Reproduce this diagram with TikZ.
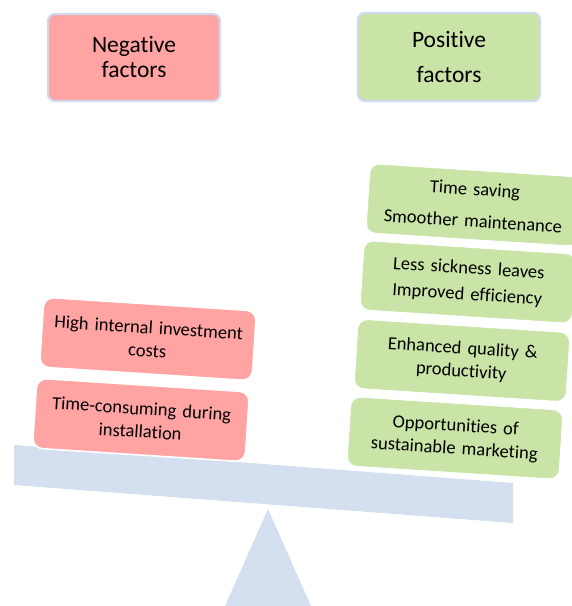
\documentclass[tikz,border=0pt]{standalone}
\usepackage{fontspec}
\setmainfont{Carlito}[Ligatures=NoCommon]
\definecolor{negfill}{HTML}{FFA3A3}
\definecolor{posfill}{HTML}{C9E4A6}
\definecolor{beamcol}{HTML}{D4DFEF}
\definecolor{hdrline}{HTML}{CFDAEC}
\tikzset{
  hdr/.style={draw=hdrline, line width=2.2pt, rounded corners=7pt, minimum width=172pt, minimum height=87pt, inner sep=0pt, align=center},
  factorbox/.style={draw=white, line width=1.6pt, rounded corners=10pt, minimum width=213pt, minimum height=70pt, inner sep=0pt, align=center, text width=205pt},
  negbox/.style={factorbox, fill=negfill},
  posbox/.style={factorbox, fill=posfill},
}
\begin{document}
\begin{tikzpicture}[x=1pt,y=1pt]
\useasboundingbox (0,0) rectangle (572,606);
\clip (0,0) rectangle (572,606);
% headers
\node[hdr, fill=negfill, font=\fontsize{23.5}{25}\selectfont] (neghdr) at (134,548.5) {Negative\\factors};
\node[hdr, fill=posfill, minimum width=182pt, minimum height=88pt, font=\fontsize{23.5}{35}\selectfont] (poshdr) at (449,549) {Positive\\factors};
% fulcrum
\path[fill=beamcol] (268,97) coordinate (apex) -- (225,0) -- (311,0) -- cycle;
% beam
\path[fill=beamcol] (14,161) coordinate (beamtl) -- (14,121) -- (513,83) -- (513,123) -- cycle;
% negative factors
\node[negbox, rotate=-3.7, font=\fontsize{18.5}{23}\selectfont] (n1) at (148,267) {High internal investment\\costs};
\node[negbox, rotate=-3.7, font=\fontsize{18.5}{23}\selectfont] (n2) at (141,186) {Time-consuming during\\installation};
% positive factors
\node[posbox, rotate=-3.7, font=\fontsize{18.5}{32}\selectfont] (p1) at (474,401) {Time saving\\Smoother maintenance};
\node[posbox, rotate=-3.7, font=\fontsize{18.5}{26}\selectfont] (p2) at (468,324) {Less sickness leaves\\Improved efficiency};
\node[posbox, rotate=-3.7, font=\fontsize{18.5}{23}\selectfont] (p3) at (462,245.5) {Enhanced quality \&\\productivity};
\node[posbox, rotate=-3.7, font=\fontsize{18.5}{23}\selectfont] (p4) at (455,168) {Opportunities of\\sustainable marketing};
\end{tikzpicture}
\end{document}
